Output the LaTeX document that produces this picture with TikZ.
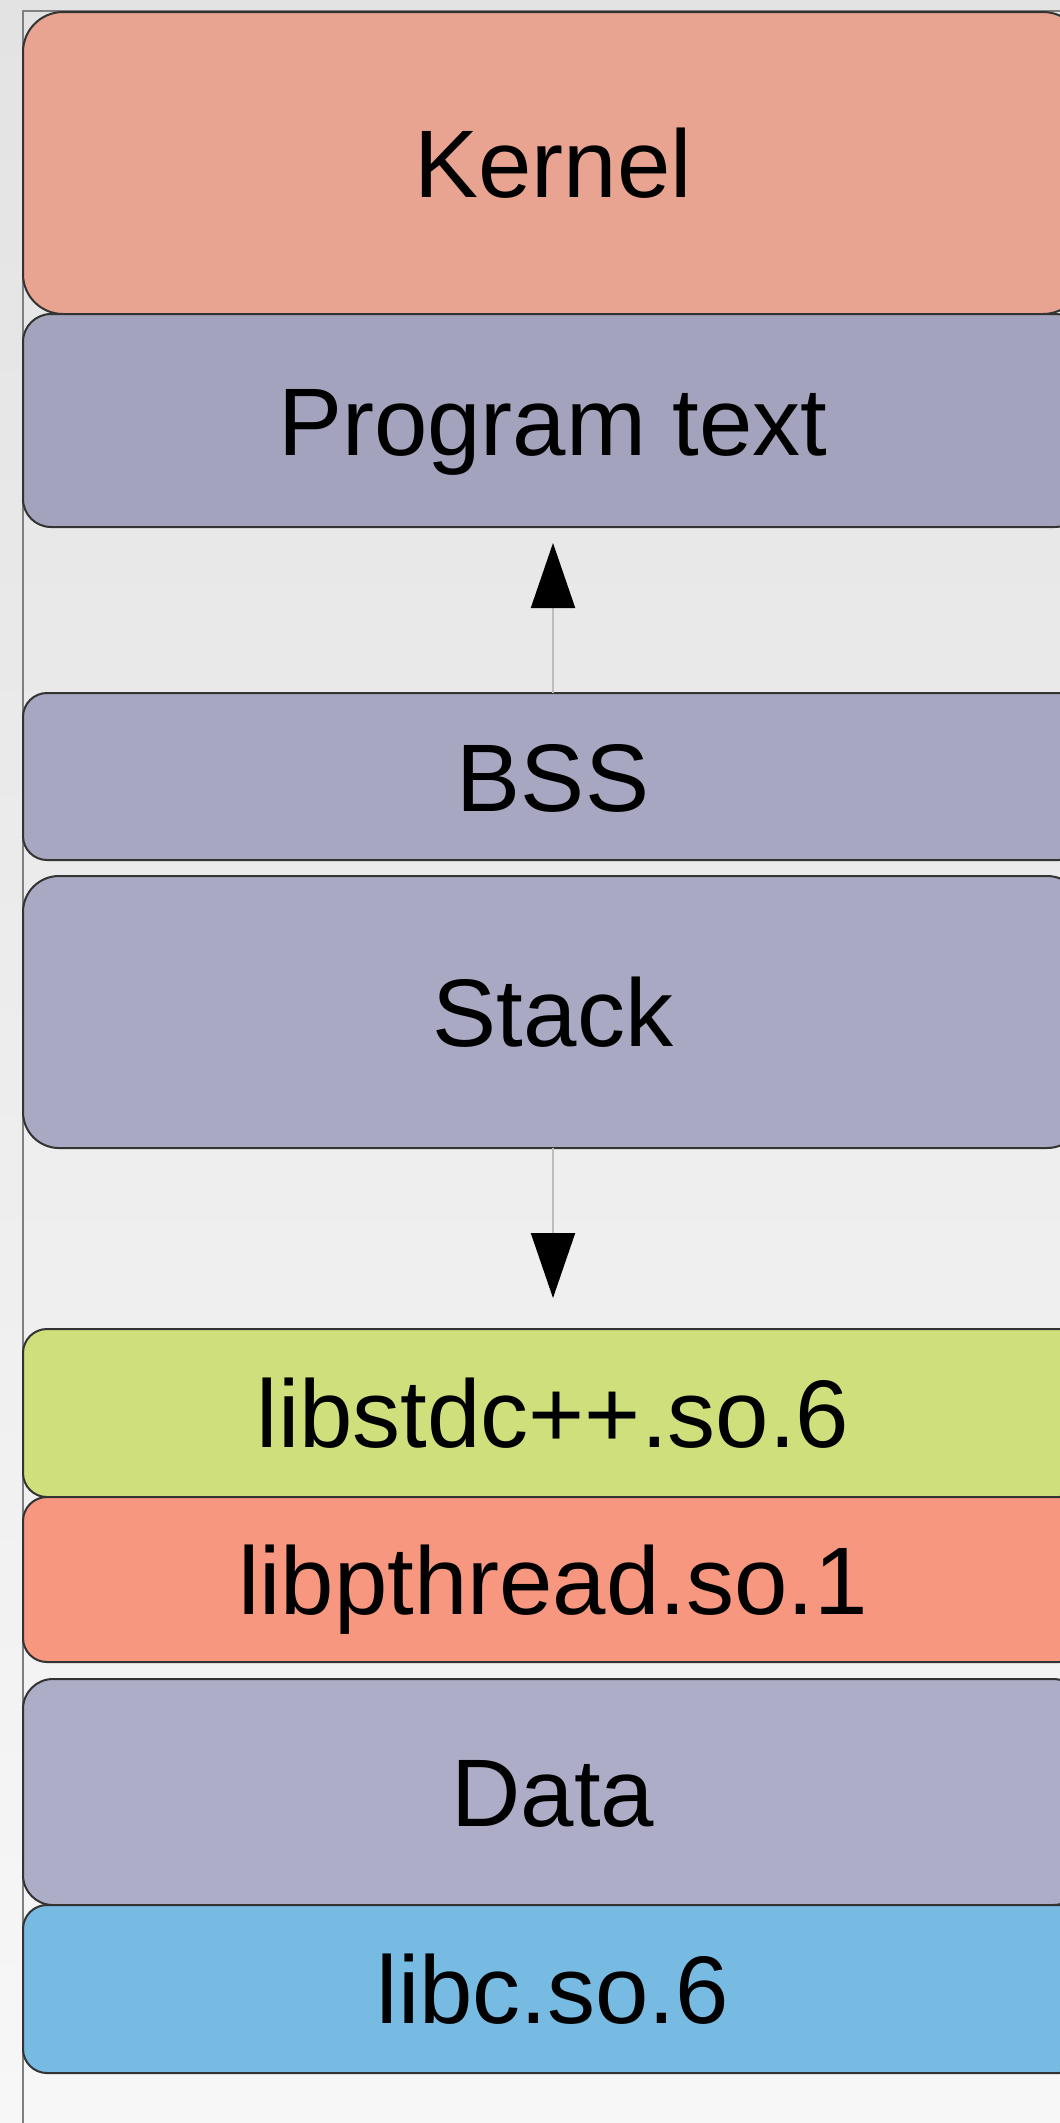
\documentclass[tikz,border=0pt]{standalone}
\usepackage{fontspec}
\setmainfont{Liberation Sans}
\usepackage{tikz}
\usetikzlibrary{positioning, arrows.meta}
\definecolor{bgTop}{HTML}{E3E3E3}
\definecolor{bgBot}{HTML}{F7F7F7}
\definecolor{inkF}{HTML}{7F7F7F}
\definecolor{inkB}{HTML}{333333}
\definecolor{inkA}{HTML}{BDBDBD}
\definecolor{kernelF}{HTML}{E8A490}
\definecolor{progF}{HTML}{A3A3BD}
\definecolor{bssF}{HTML}{A7A7C1}
\definecolor{stackF}{HTML}{A9A9C3}
\definecolor{cppF}{HTML}{CFDF7B}
\definecolor{pthrF}{HTML}{F7977F}
\definecolor{dataF}{HTML}{ADADC7}
\definecolor{libcF}{HTML}{78BBE2}
\tikzset{
  seg/.style={draw=inkB, line width=2pt, rounded corners=24pt, outer sep=0pt,
    minimum width=1060pt, text height=69pt, text depth=0pt, inner sep=0pt,
    font=\fontsize{96}{100}\selectfont},
  growarrow/.style={draw=inkA, line width=2pt,
    -{Triangle[length=65pt, width=44pt, color=black]}}
}

\begin{document}
\begin{tikzpicture}[x=1pt, y=-1pt]
\shade[top color=bgTop, bottom color=bgBot] (0,0) rectangle (1060,2123);
\useasboundingbox (0,0) rectangle (1060,2123);
\draw[inkF, line width=2pt] (23,2123) -- (23,11) -- (1060,11);
% memory segments, top to bottom
\node[seg, fill=kernelF, minimum height=302pt, rounded corners=40pt] (kernel) at (553,163) {Kernel};
\node[seg, fill=progF, minimum height=213pt, rounded corners=28pt] (prog) at (553,420.5) {Program text};
\node[seg, fill=bssF, minimum height=167pt] (bss) at (553,776.5) {BSS};
\node[seg, fill=stackF, minimum height=272pt, rounded corners=36pt] (stack) at (553,1012) {Stack};
\node[seg, fill=cppF, minimum height=168pt] (libcpp) at (553,1413) {libstdc++.so.6};
\node[seg, fill=pthrF, minimum height=165pt] (libpthr) at (553,1579.5) {libpthread.so.1};
\node[seg, fill=dataF, minimum height=226pt, rounded corners=30pt] (data) at (553,1792) {Data};
\node[seg, fill=libcF, minimum height=168pt] (libc) at (553,1989) {libc.so.6};
% growth directions
\draw[growarrow, shorten >=16pt] (bss.north) -- (prog.south);
\draw[growarrow, shorten >=31pt] (stack.south) -- (libcpp.north);
\end{tikzpicture}
\end{document}
